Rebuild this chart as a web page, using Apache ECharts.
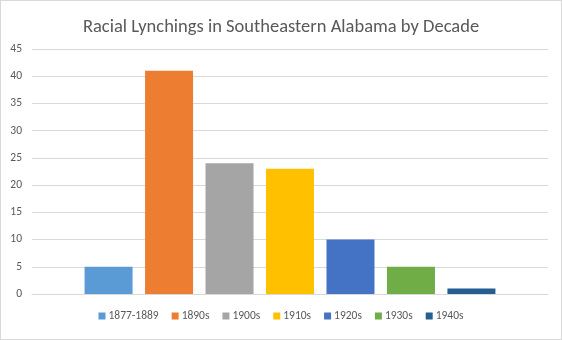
<!DOCTYPE html>
<html><head><meta charset="utf-8">
<script src="https://cdn.jsdelivr.net/npm/echarts@6/dist/echarts.min.js"></script>
<style>
html,body{margin:0;padding:0;background:#fff;}
#c{width:562px;height:340px;box-sizing:border-box;border:1px solid #d9d9d9;}
</style></head><body>
<div id="c"></div>
<script>
const seriesNames = ['1877-1889','1890s','1900s','1910s','1920s','1930s','1940s'];
const values = [5, 41, 24, 23, 10, 5, 1];
const colors = ['#5B9BD5','#ED7D31','#A5A5A5','#FFC000','#4472C4','#70AD47','#255E91'];
const yTicks = {min:0, max:45, interval:5};
const titleText = 'Racial Lynchings in Southeastern Alabama by Decade';

const font = 'Carlito, Calibri, "Open Sans", sans-serif';
const chart = echarts.init(document.getElementById('c'), null, {renderer:'canvas'});
chart.setOption({
  animation:false,
  color: colors,
  title:{text:titleText,left:'center',top:12,textStyle:{color:'#595959',fontSize:18.5,fontWeight:'normal',fontFamily:font}},
  grid:{left:31,right:13,top:48,bottom:45},
  legend:{bottom:12,left:'center',itemWidth:7,itemHeight:7,itemGap:13,icon:'rect',
    textStyle:{color:'#595959',fontSize:11.5,fontFamily:font,padding:[0,0,0,-2]},
    data:seriesNames},
  xAxis:{type:'category',data:[''],axisLine:{lineStyle:{color:'#d9d9d9'}},axisTick:{show:false},axisLabel:{show:false}},
  yAxis:{type:'value',min:yTicks.min,max:yTicks.max,interval:yTicks.interval,
    axisLine:{show:false},axisTick:{show:false},
    axisLabel:{color:'#595959',fontSize:11.5,fontFamily:font,margin:10},
    splitLine:{lineStyle:{color:'#d9d9d9'}}},
  series: seriesNames.map((n,i)=>({name:n,type:'bar',data:[values[i]],barWidth:48,barGap:'26%'}))
});
</script></body></html>
